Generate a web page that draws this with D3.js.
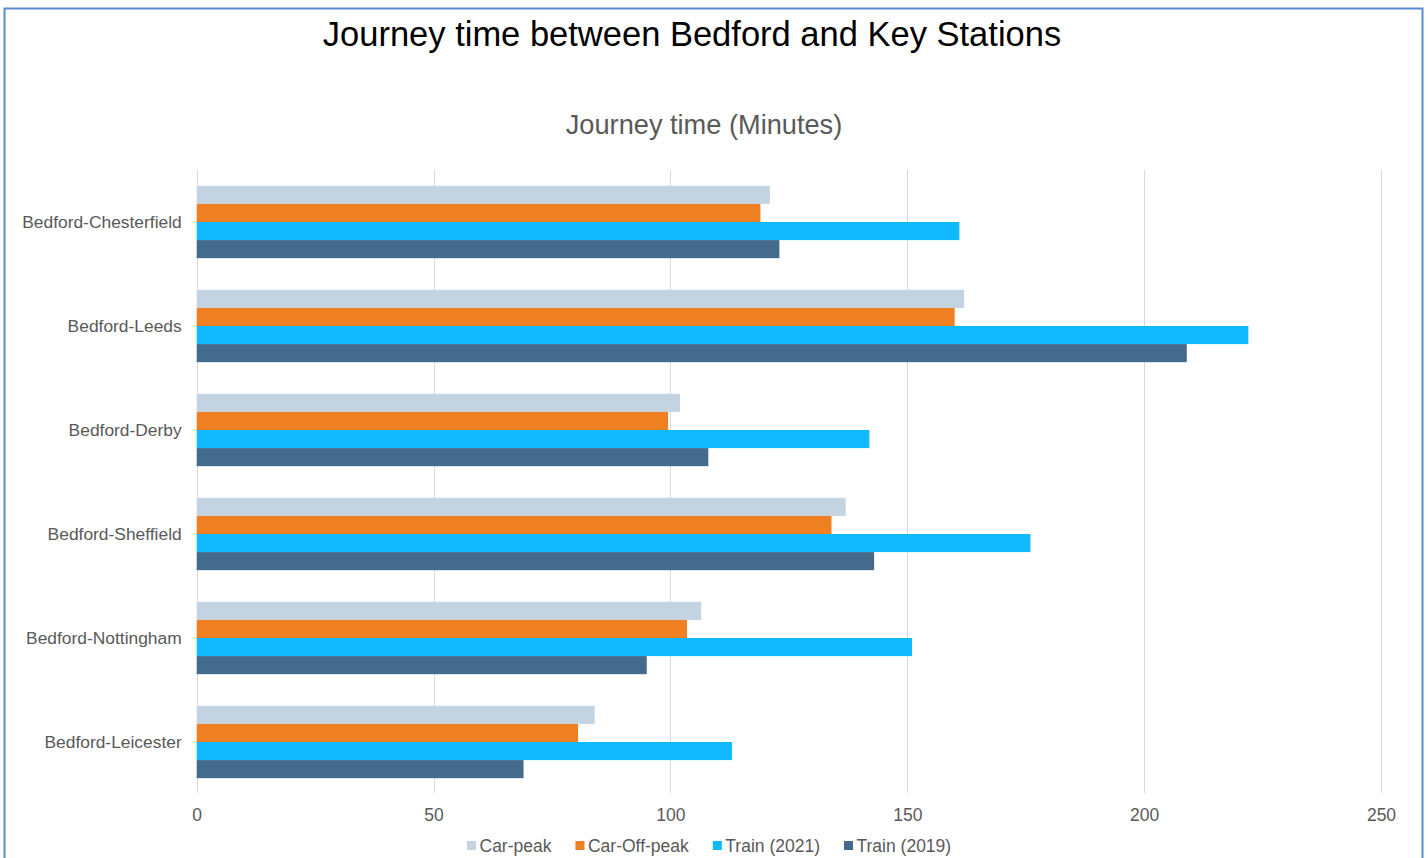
<!DOCTYPE html>
<html>
<head>
<meta charset="utf-8">
<script src="https://cdn.jsdelivr.net/npm/d3@7"></script>
<style>
  html, body { margin: 0; padding: 0; background: #fff; }
  svg { display: block; font-family: "Liberation Sans", Arial, sans-serif; }
</style>
</head>
<body>
<svg id="chart" width="1428" height="858"></svg>
<script>
const categories = ["Bedford-Chesterfield", "Bedford-Leeds", "Bedford-Derby", "Bedford-Sheffield", "Bedford-Nottingham", "Bedford-Leicester"];
const seriesNames = ["Car-peak", "Car-Off-peak", "Train (2021)", "Train (2019)"];
const carPeak    = [121, 162, 102, 137, 106.5, 84];
const carOffPeak = [119, 160, 99.5, 134, 103.5, 80.5];
const train2021  = [161, 222, 142, 176, 151, 113];
const train2019  = [123, 209, 108, 143, 95, 69];
const xTicks = [0, 50, 100, 150, 200, 250];
const colors = ["#c3d3e1", "#ee7f22", "#11baff", "#446a8c"];

const seriesValues = [carPeak, carOffPeak, train2021, train2019];

const svg = d3.select("#chart");

// frame
svg.append("rect")
  .attr("x", 4.5).attr("y", 8.5)
  .attr("width", 1418).attr("height", 900)
  .attr("fill", "#fff")
  .attr("stroke", "#5a8ad0").attr("stroke-width", 2);

// titles
svg.append("text")
  .attr("x", 692).attr("y", 46)
  .attr("text-anchor", "middle")
  .attr("font-size", 34.5).attr("fill", "#000")
  .text("Journey time between Bedford and Key Stations");

svg.append("text")
  .attr("x", 704).attr("y", 134)
  .attr("text-anchor", "middle")
  .attr("font-size", 27.2).attr("fill", "#595959")
  .text("Journey time (Minutes)");

// scales
const x = d3.scaleLinear().domain([0, 250]).range([196.7, 1381]);
const y = d3.scaleBand().domain(categories).range([170, 794]).paddingInner(0.304).paddingOuter(0.152);
const ySub = d3.scaleBand().domain(d3.range(seriesNames.length)).range([0, y.bandwidth()]).padding(0);

// gridlines
svg.append("g").selectAll("line").data(xTicks).join("line")
  .attr("x1", d => Math.round(x(d)) + 0.5).attr("x2", d => Math.round(x(d)) + 0.5)
  .attr("y1", 170).attr("y2", 793)
  .attr("stroke", "#d9d9d9").attr("stroke-width", 1);

// x axis labels
const xAxis = d3.axisBottom(x).tickValues(xTicks).tickSize(0).tickPadding(0).tickFormat(d3.format("d"));
const gx = svg.append("g").attr("transform", "translate(0,807)").call(xAxis);
gx.select(".domain").remove();
gx.selectAll("text").attr("font-size", 17.5).attr("fill", "#595959")
  .attr("font-family", "'Liberation Sans', Arial, sans-serif").attr("dy", "0.8em");

// bars
const groups = svg.append("g").selectAll("g").data(categories).join("g")
  .attr("transform", d => `translate(0,${y(d)})`);
groups.selectAll("rect")
  .data((c, ci) => seriesValues.map((vals, si) => ({ si, v: vals[ci] })))
  .join("rect")
  .attr("x", x(0))
  .attr("y", d => ySub(d.si))
  .attr("width", d => x(d.v) - x(0))
  .attr("height", ySub.bandwidth())
  .attr("fill", d => colors[d.si]);

// category axis labels
const yAxis = d3.axisLeft(y).tickSize(0).tickPadding(15);
const gy = svg.append("g").attr("transform", `translate(${x(0)},0)`).call(yAxis);
gy.select(".domain").remove();
gy.selectAll("text").attr("font-size", 17.4).attr("fill", "#595959")
  .attr("font-family", "'Liberation Sans', Arial, sans-serif");

// legend
const legend = svg.append("g").attr("transform", "translate(467,0)");
let lx = 0;
seriesNames.forEach((name, i) => {
  const g = legend.append("g").attr("transform", `translate(${lx},0)`);
  g.append("rect").attr("x", 0).attr("y", 841).attr("width", 9).attr("height", 9).attr("fill", colors[i]);
  const t = g.append("text").attr("x", 12.5).attr("y", 851.5)
    .attr("font-size", 17.5).attr("fill", "#595959").text(name);
  lx += 12.5 + t.node().getComputedTextLength() + 24;
});
</script>
</body>
</html>
